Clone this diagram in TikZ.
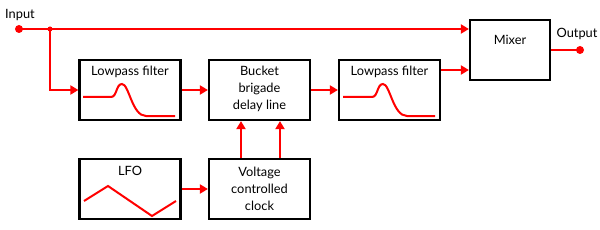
\documentclass[tikz,border=0pt]{standalone}
\usepackage{fontspec}
\setmainfont{Lato}
\usetikzlibrary{arrows.meta}
\definecolor{sig}{RGB}{255,0,0}
\begin{document}
\begin{tikzpicture}[x=1pt,y=-1pt,
  box/.style={draw=black,line width=2.2pt,minimum width=101pt,minimum height=60pt,inner sep=0pt},
  lbl/.style={font=\fontsize{12.8}{17}\selectfont,align=center,inner sep=0pt},
  wire/.style={draw=sig,line width=2pt},
  arr/.style={wire,-{Triangle[length=8pt,width=9pt]}},
  dot/.style={circle,fill=sig,inner sep=0pt,minimum size=#1}]
\useasboundingbox (0,0) rectangle (600,230);
% boxes
\node[box] (lp1) at (130,90) {};
\node[box] (bbd) at (259.5,90) {};
\node[box] (lp2) at (389.5,90) {};
\node[box,minimum width=80pt] (mix) at (510,50) {};
\node[box] (lfo) at (130,189) {};
\node[box] (vcc) at (259.5,189) {};
% labels
\node[lbl] (tlp1) at (130,72) {Lowpass filter};
\node[lbl] (tbbd) at (259.5,89) {Bucket\\brigade\\delay line};
\node[lbl] (tlp2) at (389.5,72) {Lowpass filter};
\node[lbl] (tmix) at (510,40) {Mixer};
\node[lbl] (tlfo) at (130,171) {LFO};
\node[lbl] (tvcc) at (259.5,189) {Voltage\\controlled\\clock};
\node[lbl,anchor=west] (tin) at (5,15) {Input};
\node[lbl] (tout) at (577,34) {Output};
% dots
\node[dot=8pt] (in) at (19,29) {};
\node[dot=5pt] (j) at (50,29) {};
\node[dot=8pt] (out) at (580,50) {};
% wires
\draw[arr] (in.center) -- (mix.west |- in);
\draw[arr] (j.center) |- (lp1.west);
\draw[arr] (lp1.east) -- (bbd.west);
\draw[arr] (bbd.east) -- (lp2.west);
\coordinate (m2) at (mix.west |- 0,70);
\draw[arr] (lp2.east |- m2) -- (m2);
\draw[wire] (mix.east) -- (out.center);
\draw[arr] (lfo.east) -- (vcc.west);
\draw[arr] (vcc.north -| 241,0) -- (bbd.south -| 241,0);
\draw[arr] (vcc.north -| 280,0) -- (bbd.south -| 280,0);
% waveforms
\draw[wire] (83,97) -- (111,97) .. controls (117,97) and (116,84) .. (122,84) .. controls (129,84) and (132,116) .. (146,116) -- (175,116);
\draw[wire] (343,97) -- (372,97) .. controls (378,97) and (377,84) .. (383,84) .. controls (390,84) and (393,116) .. (407,116) -- (435,116);
\draw[wire,line join=miter] (84,201) -- (108,186) -- (152,216) -- (176,201);
\end{tikzpicture}
\end{document}
